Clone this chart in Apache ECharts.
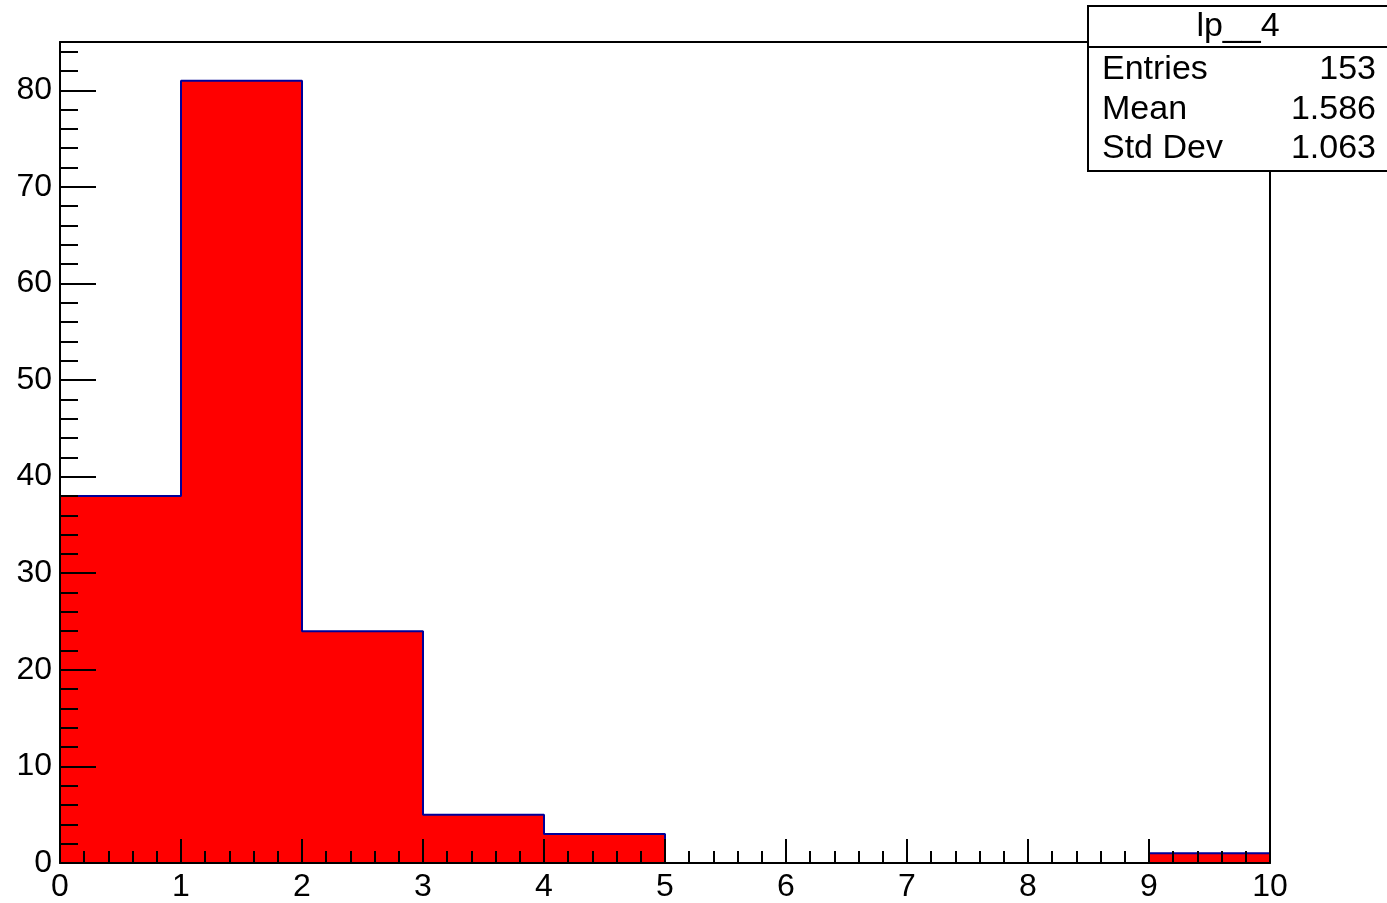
<!DOCTYPE html>
<html><head><meta charset="utf-8">
<script src="https://cdn.jsdelivr.net/npm/echarts@6/dist/echarts.min.js"></script>
<style>html,body{margin:0;padding:0;background:#fff}#c{width:1387px;height:903px}</style>
</head><body><div id="c"></div>
<script>
const binEdges = [0, 1, 2, 3, 4, 5, 6, 7, 8, 9, 10];
const binCounts = [38, 81, 24, 5, 3, 0, 0, 0, 0, 1];
const xTickLabels = ['0','1','2','3','4','5','6','7','8','9','10'];
const yTickLabels = ['0','10','20','30','40','50','60','70','80'];
const statsTitle = 'lp__4';
const statsLabels = ['Entries', 'Mean', 'Std Dev'];
const statsValues = ['153', '1.586', '1.063'];

const FONT = '"Liberation Sans", Arial, Helvetica, sans-serif';
const fillData = binCounts.map((c, i) => [binEdges[i], binEdges[i + 1], c]);
const stepData = binCounts.map((c, i) => [binEdges[i], c]);
stepData.push([binEdges[binEdges.length - 1], binCounts[binCounts.length - 1]]);

const chart = echarts.init(document.getElementById('c'), null, {renderer: 'canvas'});
const axisLine = {show: true, onZero: false, lineStyle: {color: '#000', width: 2}};
const statsRowY = [70, 110, 149];
const graphics = [
  {type: 'rect', shape: {x: 1088, y: 6, width: 310, height: 165}, style: {fill: '#fff', stroke: '#000', lineWidth: 2}, z: 100},
  {type: 'line', shape: {x1: 1088, y1: 47, x2: 1387, y2: 47}, style: {stroke: '#000', lineWidth: 2}, z: 101},
  {type: 'text', x: 1238, y: 27, style: {text: statsTitle, font: '34px ' + FONT, fill: '#000', textAlign: 'center', textVerticalAlign: 'middle'}, z: 101}
];
statsLabels.forEach((lab, i) => {
  graphics.push({type: 'text', x: 1102, y: statsRowY[i], style: {text: lab, font: '34px ' + FONT, fill: '#000', textAlign: 'left', textVerticalAlign: 'middle'}, z: 101});
  graphics.push({type: 'text', x: 1376, y: statsRowY[i], style: {text: statsValues[i], font: '34px ' + FONT, fill: '#000', textAlign: 'right', textVerticalAlign: 'middle'}, z: 101});
});

chart.setOption({
  animation: false,
  backgroundColor: '#fff',
  grid: {left: 60, right: 117, top: 42, bottom: 39, containLabel: false},
  xAxis: [{
    type: 'value', min: 0, max: 10, interval: 1, z: 10,
    axisLine: axisLine,
    axisTick: {show: true, inside: true, length: 24, lineStyle: {color: '#000', width: 2}},
    minorTick: {show: true, splitNumber: 5, length: 12, lineStyle: {color: '#000', width: 2}},
    splitLine: {show: false},
    axisLabel: {show: true, margin: 8, fontSize: 32, fontFamily: FONT, color: '#000',
      formatter: v => xTickLabels[Math.round(v)] ?? ''}
  }, {
    type: 'value', position: 'top', min: 0, max: 10, z: 10,
    axisLine: axisLine, axisTick: {show: false}, axisLabel: {show: false}, splitLine: {show: false}
  }],
  yAxis: [{
    type: 'value', min: 0, max: 85, interval: 10, z: 10,
    axisLine: axisLine,
    axisTick: {show: true, inside: true, length: 36, lineStyle: {color: '#000', width: 2}},
    minorTick: {show: true, splitNumber: 5, length: 18, lineStyle: {color: '#000', width: 2}},
    splitLine: {show: false},
    axisLabel: {show: true, margin: 8, fontSize: 32, fontFamily: FONT, color: '#000', showMaxLabel: false,
      formatter: v => (v % 10 === 0 && v / 10 < yTickLabels.length) ? yTickLabels[v / 10] : ''}
  }, {
    type: 'value', position: 'right', min: 0, max: 85, z: 10,
    axisLine: axisLine, axisTick: {show: false}, axisLabel: {show: false}, splitLine: {show: false}
  }],
  series: [{
    type: 'custom',
    xAxisIndex: 0, yAxisIndex: 0,
    data: fillData,
    encode: {x: [0, 1], y: 2},
    renderItem: function (params, api) {
      const p0 = api.coord([api.value(0), api.value(2)]);
      const p1 = api.coord([api.value(1), 0]);
      return {type: 'rect', shape: {x: p0[0], y: p0[1], width: p1[0] - p0[0], height: p1[1] - p0[1]},
        style: {fill: '#ff0000'}};
    },
    z: 2
  }, {
    type: 'line',
    xAxisIndex: 0, yAxisIndex: 0,
    data: stepData,
    step: 'end',
    symbol: 'none',
    lineStyle: {color: '#000099', width: 2},
    z: 3
  }],
  graphic: graphics
});
</script>
</body></html>
